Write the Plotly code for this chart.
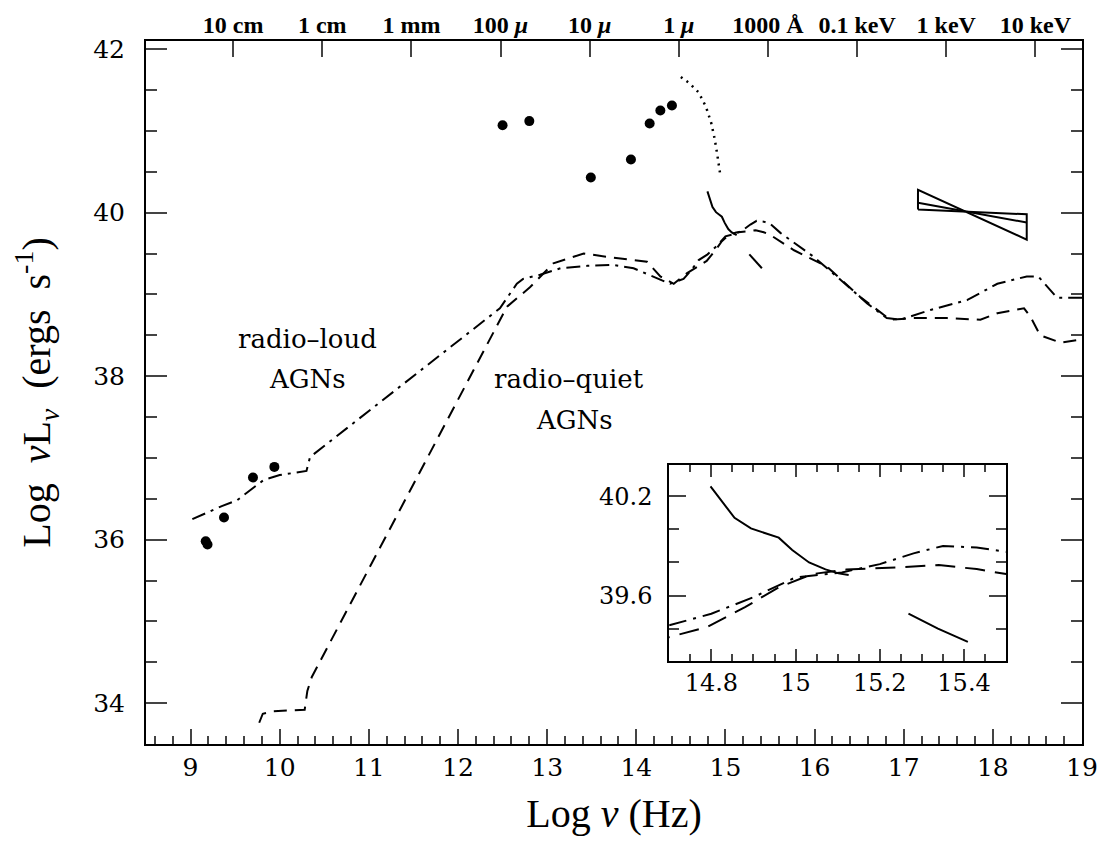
import plotly.graph_objects as go

# ---------------- data ----------------
loud_x = [9.02, 9.35, 9.52, 9.82, 10.0, 10.30, 10.34, 12.47, 12.66, 12.73, 12.92, 13.15, 13.45, 13.74,
          13.97, 14.19, 14.38, 14.53, 14.62, 14.70, 14.80, 14.90, 15.00, 15.11, 15.20, 15.28, 15.35,
          15.43, 15.50, 15.62, 15.99, 16.30, 16.59, 16.81, 16.96, 17.30, 17.71, 18.05, 18.38, 18.51,
          18.72, 19.0]
loud_y = [36.25, 36.41, 36.48, 36.73, 36.79, 36.84, 37.01, 38.83, 39.13, 39.19, 39.24, 39.32, 39.35, 39.36,
          39.32, 39.22, 39.13, 39.19, 39.30, 39.42, 39.49, 39.59, 39.71, 39.74, 39.79, 39.855, 39.90,
          39.89, 39.865, 39.75, 39.46, 39.17, 38.89, 38.71, 38.69, 38.81, 38.93, 39.13, 39.22, 39.22,
          38.96, 38.96]

quiet_x = [9.77, 9.81, 9.93, 10.28, 10.31, 10.36, 12.55, 12.81, 13.07, 13.41, 13.67, 13.89, 14.12, 14.27,
           14.42, 14.57, 14.70, 14.79, 14.88, 14.96, 15.04, 15.12, 15.24, 15.34, 15.43, 15.50, 15.77,
           16.14, 16.51, 16.85, 17.11, 17.49, 17.86, 18.05, 18.35, 18.42, 18.53, 18.76, 19.0]
quiet_y = [33.76, 33.87, 33.90, 33.92, 34.15, 34.32, 38.85, 39.09, 39.38, 39.50, 39.46, 39.43, 39.40, 39.22,
           39.13, 39.26, 39.35, 39.41, 39.53, 39.65, 39.73, 39.757, 39.77, 39.784, 39.76, 39.73, 39.54,
           39.34, 38.97, 38.69, 38.71, 38.71, 38.69, 38.77, 38.83, 38.73, 38.50, 38.41, 38.45]

dotted_x = [14.50, 14.60, 14.70, 14.78, 14.84, 14.88, 14.91, 14.94]
dotted_y = [41.66, 41.58, 41.47, 41.30, 41.10, 40.90, 40.70, 40.48]

solid1_x = [14.798, 14.827, 14.855, 14.894, 14.930, 14.960, 14.992, 15.032, 15.071, 15.102, 15.126]
solid1_y = [40.26, 40.16, 40.07, 40.006, 39.976, 39.95, 39.875, 39.80, 39.758, 39.734, 39.724]
solid2_x = [15.268, 15.338, 15.409]
solid2_y = [39.49, 39.40, 39.32]

radio_pts_x = [9.17, 9.19, 9.375, 9.70, 9.94]
radio_pts_y = [35.98, 35.94, 36.27, 36.76, 36.89]
ir_pts_x = [12.50, 12.80, 13.49, 13.94, 14.15, 14.27, 14.40]
ir_pts_y = [41.07, 41.12, 40.43, 40.65, 41.09, 41.25, 41.31]

# X-ray bow-tie: end frequencies and the three power laws (flat/mid/steep)
xray_x = [17.16, 18.38]
xray_flat = [40.04, 39.98]
xray_mid = [40.12, 39.88]
xray_steep = [40.28, 39.67]

top_ticks = [9.477, 10.477, 11.477, 12.477, 13.477, 14.477, 15.477, 16.477, 17.477, 18.477]
top_labels = ["10 cm", "1 cm", "1 mm", "100 <i>μ</i>", "10 <i>μ</i>", "1 <i>μ</i>",
              "1000 Å", "0.1 keV", "1 keV", "10 keV"]

y_ticks = [34, 36, 38, 40, 42]
inset_xticks = [14.8, 15.0, 15.2, 15.4]
inset_xlabels = ["14.8", "15", "15.2", "15.4"]
inset_yticks = [39.6, 40.2]

labels_text = ["radio–loud", "AGNs", "radio–quiet", "AGNs"]
labels_x = [10.31, 10.31, 13.24, 13.31]
labels_y = [38.46, 37.96, 37.96, 37.46]

# ---------------- figure ----------------
BLACK = "black"
DASH = "13px,8px"
DASHDOT = "14px,6px,3px,6px"
fig = go.Figure()


def add_curves(xa, ya, inset=False):
    w = 2
    fig.add_trace(go.Scatter(x=loud_x, y=loud_y, mode="lines", xaxis=xa, yaxis=ya,
                             line=dict(color=BLACK, width=w,
                                       dash=("18px,7px,3px,7px" if inset else DASHDOT))))
    fig.add_trace(go.Scatter(x=quiet_x, y=quiet_y, mode="lines", xaxis=xa, yaxis=ya,
                             line=dict(color=BLACK, width=w, dash=("20px,10px" if inset else DASH))))
    fig.add_trace(go.Scatter(x=solid1_x, y=solid1_y, mode="lines", xaxis=xa, yaxis=ya,
                             line=dict(color=BLACK, width=w)))
    fig.add_trace(go.Scatter(x=solid2_x, y=solid2_y, mode="lines", xaxis=xa, yaxis=ya,
                             line=dict(color=BLACK, width=w)))


add_curves("x", "y")
fig.add_trace(go.Scatter(x=dotted_x, y=dotted_y, mode="lines",
                         line=dict(color=BLACK, width=2.5, dash="2px,5px")))
fig.add_trace(go.Scatter(x=radio_pts_x + ir_pts_x, y=radio_pts_y + ir_pts_y, mode="markers",
                         marker=dict(color=BLACK, size=10)))

# bow-tie outline
bx = [xray_x[0], xray_x[0], xray_x[1], xray_x[1], xray_x[0]]
by = [xray_flat[0], xray_steep[0], xray_steep[1], xray_flat[1], xray_flat[0]]
fig.add_trace(go.Scatter(x=bx, y=by, mode="lines", line=dict(color=BLACK, width=2)))
fig.add_trace(go.Scatter(x=xray_x, y=xray_mid, mode="lines", line=dict(color=BLACK, width=2)))

# invisible trace on the top (wavelength) axis so it is drawn
fig.add_trace(go.Scatter(x=[top_ticks[0]], y=[40], xaxis="x2", yaxis="y", mode="markers",
                         marker=dict(opacity=0), hoverinfo="skip"))

add_curves("x3", "y3", inset=True)

title_font = dict(family="Liberation Serif", size=40, color=BLACK)
fig.update_layout(
    width=1101, height=844,
    margin=dict(l=146, r=19, t=41, b=100),
    paper_bgcolor="white", plot_bgcolor="white",
    showlegend=False,
    font=dict(family="DejaVu Serif", color=BLACK, size=24),
    xaxis=dict(range=[8.5, 19], dtick=1, tick0=9, ticks="inside", ticklen=15, tickwidth=1.5,
               showline=True, linewidth=2, linecolor=BLACK, mirror=True, automargin=False,
               showgrid=False, zeroline=False, tickfont=dict(size=25),
               minor=dict(dtick=0.2, tick0=9, ticks="inside", ticklen=8, tickwidth=1.5, showgrid=False),
               title=dict(text="Log <i>ν</i> (Hz)", font=title_font, standoff=18)),
    xaxis2=dict(range=[8.5, 19], overlaying="x", side="top", anchor="y", automargin=False,
                tickmode="array", tickvals=top_ticks, ticktext=top_labels,
                ticks="inside", ticklen=16, tickwidth=1.5, showline=False,
                showgrid=False, zeroline=False, ticklabelstandoff=2,
                tickfont=dict(family="Liberation Serif", size=24, weight="bold")),
    yaxis=dict(range=[33.5, 42.1], tickmode="array", tickvals=y_ticks, ticks="inside", ticklen=21,
               tickwidth=1.5, showline=True, linewidth=2, linecolor=BLACK, mirror="ticks",
               automargin=False, showgrid=False, zeroline=False, tickfont=dict(size=25),
               ticklabelstandoff=14,
               minor=dict(dtick=0.5, tick0=34, ticks="inside", ticklen=11, tickwidth=1.5, showgrid=False),
               title=dict(text="Log&nbsp;&nbsp;<i>ν</i>L<sub><i>ν</i></sub>&nbsp;&nbsp;(ergs&nbsp;&nbsp;s<sup>-1</sup>)",
                          font=title_font, standoff=30)),
    xaxis3=dict(domain=[0.559, 0.919], anchor="y3", range=[14.7, 15.5], automargin=False,
                tickmode="array", tickvals=inset_xticks, ticktext=inset_xlabels,
                ticks="inside", ticklen=12, tickwidth=1.5, showline=True, linewidth=2,
                linecolor=BLACK, mirror="ticks", showgrid=False, zeroline=False,
                tickfont=dict(size=24),
                minor=dict(dtick=0.05, tick0=14.7, ticks="inside", ticklen=7, tickwidth=1.5, showgrid=False)),
    yaxis3=dict(domain=[0.1185, 0.397], anchor="x3", range=[39.206, 40.39], automargin=False,
                tickmode="array", tickvals=inset_yticks,
                ticks="inside", ticklen=17, tickwidth=1.5, showline=True, linewidth=2,
                linecolor=BLACK, mirror="ticks", showgrid=False, zeroline=False,
                tickfont=dict(size=24), ticklabelstandoff=10,
                minor=dict(dtick=0.2, tick0=39.6, ticks="inside", ticklen=10, tickwidth=1.5, showgrid=False)),
)

ann_font = dict(family="DejaVu Serif", size=26, color=BLACK)
for txt, x, y in zip(labels_text, labels_x, labels_y):
    fig.add_annotation(x=x, y=y, xref="x", yref="y", text=txt, showarrow=False, font=ann_font)

fig.write_html("out.html")
